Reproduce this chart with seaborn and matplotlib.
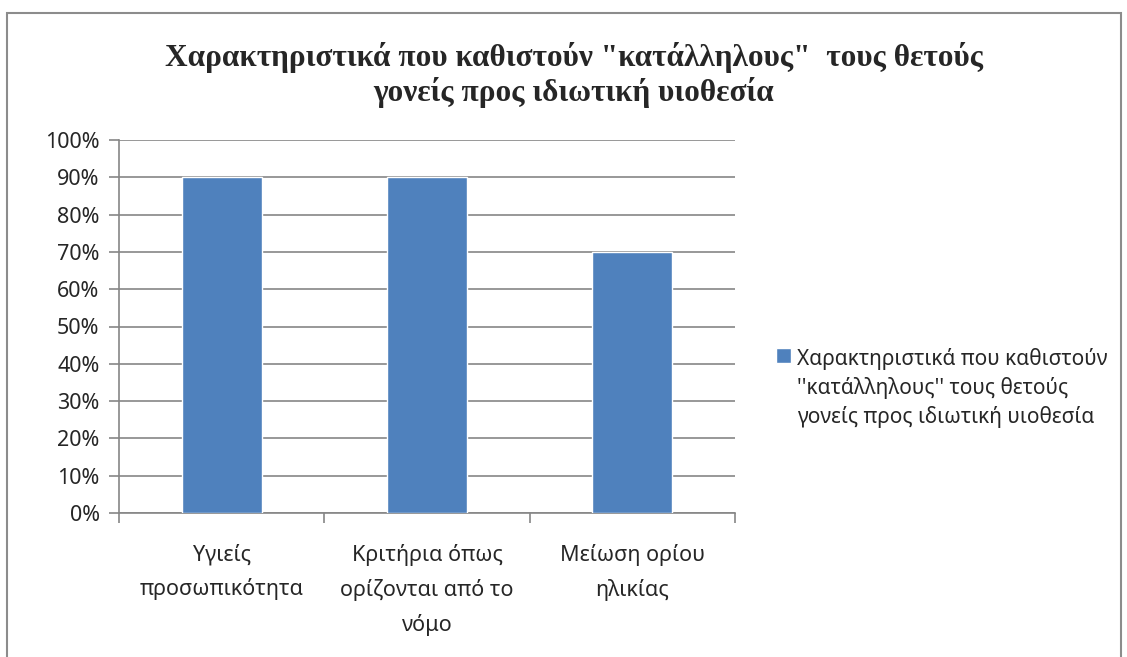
import matplotlib
matplotlib.use("Agg")
import matplotlib.pyplot as plt
import seaborn as sns
from matplotlib.ticker import PercentFormatter
from matplotlib.patches import Rectangle

categories = ["Υγιείς\nπροσωπικότητα",
              "Κριτήρια όπως\nορίζονται από το\nνόμο",
              "Μείωση ορίου\nηλικίας"]
values = [0.90, 0.90, 0.70]
series_label = "Χαρακτηριστικά που καθιστούν\n''κατάλληλους'' τους θετούς\nγονείς προς ιδιωτική υιοθεσία"
title = "Χαρακτηριστικά που καθιστούν \"κατάλληλους\"  τους θετούς\nγονείς προς ιδιωτική υιοθεσία"
yticks = [0, 0.1, 0.2, 0.3, 0.4, 0.5, 0.6, 0.7, 0.8, 0.9, 1.0]

sns.set_theme(style="white")
plt.rcParams['font.family'] = ['Noto Sans', 'DejaVu Sans']

W, H = 1127, 657
fig = plt.figure(figsize=(W / 100, H / 100), dpi=100)
ax = fig.add_axes([119 / W, 1 - 513 / H, (735 - 119) / W, (513 - 140) / H])

bar_color = "#4F81BD"
grid_color = "#868686"

sns.barplot(x=categories, y=values, color=bar_color, width=0.39,
            saturation=1, ax=ax, label=series_label, zorder=3)

ax.set_ylim(0, 1.0)
ax.set_xlim(-0.5, 2.5)
ax.set_yticks(yticks)
ax.yaxis.set_major_formatter(PercentFormatter(1.0, decimals=0))
ax.grid(axis="y", color=grid_color, linewidth=1.2, zorder=0)
ax.set_axisbelow(True)
for side in ["top", "right"]:
    ax.spines[side].set_visible(False)
for side in ["left", "bottom"]:
    ax.spines[side].set_color(grid_color)
    ax.spines[side].set_linewidth(1.2)

# category boundary ticks
ax.set_xticks([-0.5, 0.5, 1.5, 2.5], minor=False)
ax.set_xticklabels([])
ax.set_xticks([0, 1, 2], minor=True)
ax.set_xticklabels(categories, minor=True, fontsize=15.5, linespacing=1.78, va="top")
ax.tick_params(axis="x", which="major", length=7, width=1.2, color=grid_color, direction="out", bottom=True)
ax.tick_params(axis="x", which="minor", length=0, pad=22)
ax.tick_params(axis="y", length=7, width=1.2, color=grid_color, direction="out", left=True, labelsize=15.5, pad=7)
ax.set_xlabel("")
ax.set_ylabel("")

leg = ax.legend(loc="upper left", bbox_to_anchor=(776 / W, 1 - 348 / H),
                bbox_transform=fig.transFigure, frameon=False, fontsize=15,
                handlelength=0.7, handleheight=0.7, handletextpad=0.3,
                borderpad=0, borderaxespad=0)
for t in leg.get_texts():
    t.set_linespacing(1.42)
# align the legend square with the first text line
for col in leg._legend_handle_box.get_children():
    for entry in col.get_children():
        entry.align = "top"

fig.text(574 / W, 1 - 75 / H, title, ha="center", va="center",
         fontsize=22.5, fontweight="bold", family=["Liberation Serif", "DejaVu Serif"],
         linespacing=1.2)

frame = Rectangle((7 / W, -0.1), (1121 - 7) / W, 1.1 - 13 / H, transform=fig.transFigure,
                  fill=False, edgecolor="#8C8C8C", linewidth=1.5)
fig.patches.append(frame)

fig.savefig("out.png", dpi=100)
